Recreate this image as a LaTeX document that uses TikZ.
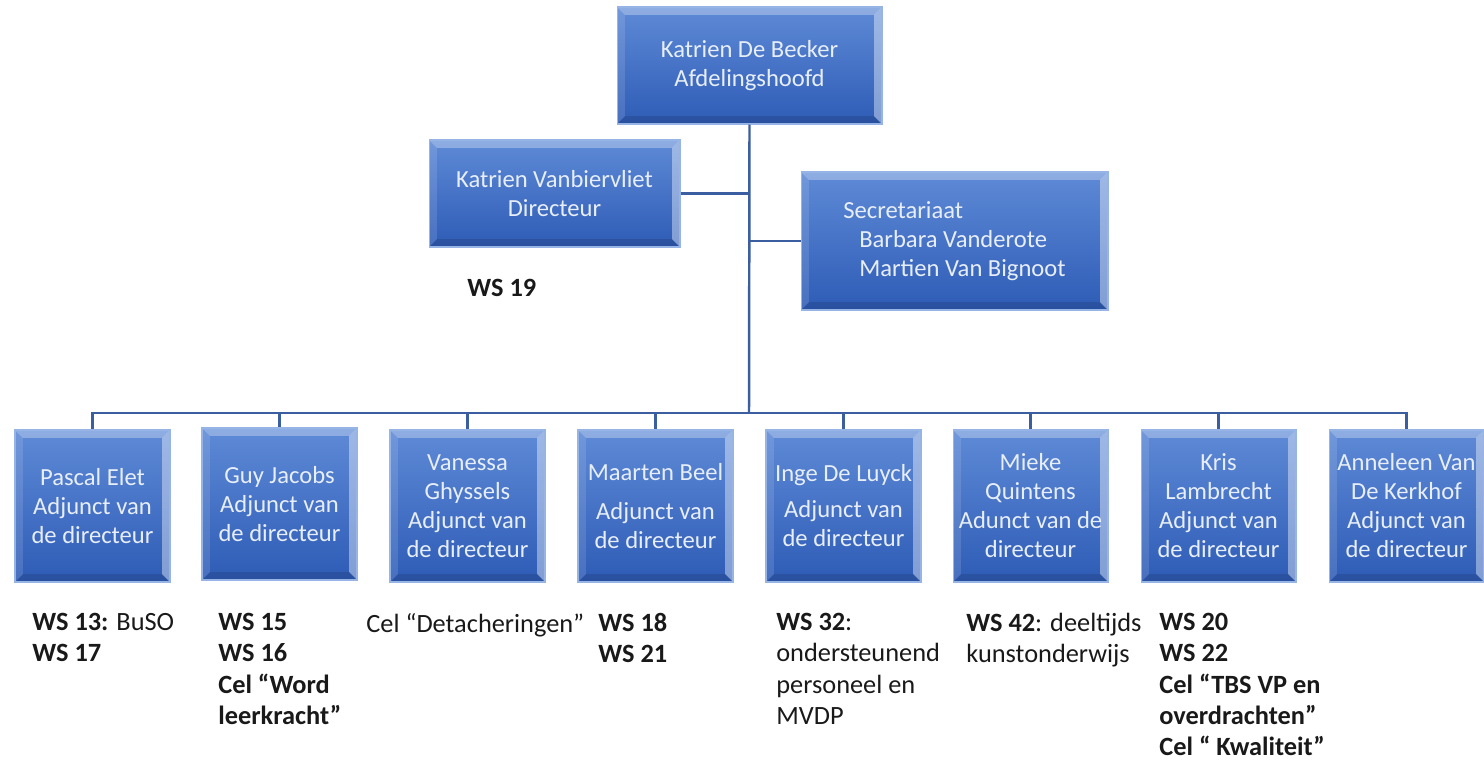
\documentclass[tikz,border=0pt]{standalone}
\usepackage{fontspec}
\setmainfont{Carlito}
\definecolor{boxtop}{RGB}{94,138,214}
\definecolor{boxbot}{RGB}{46,92,182}
\definecolor{boxedge}{RGB}{150,180,230}
\definecolor{boxtext}{RGB}{232,238,248}
\definecolor{linecol}{RGB}{58,94,160}
\begin{document}
\begin{tikzpicture}[x=0.02cm, y=-0.02cm,
        bevel/.style={path picture={
            \fill[white, opacity=.30] (path picture bounding box.north west) -- (path picture bounding box.north east)
                -- ([shift={(-4.5pt,-4.5pt)}]path picture bounding box.north east) -- ([shift={(4.5pt,-4.5pt)}]path picture bounding box.north west) -- cycle;
            \fill[white, opacity=.12] (path picture bounding box.north west) -- (path picture bounding box.south west)
                -- ([shift={(4.5pt,4.5pt)}]path picture bounding box.south west) -- ([shift={(4.5pt,-4.5pt)}]path picture bounding box.north west) -- cycle;
            \fill[white, opacity=.40] (path picture bounding box.north east) -- (path picture bounding box.south east)
                -- ([shift={(-4.5pt,4.5pt)}]path picture bounding box.south east) -- ([shift={(-4.5pt,-4.5pt)}]path picture bounding box.north east) -- cycle;
            \fill[black, opacity=.12] (path picture bounding box.south west) -- (path picture bounding box.south east)
                -- ([shift={(-4.5pt,4.5pt)}]path picture bounding box.south east) -- ([shift={(4.5pt,4.5pt)}]path picture bounding box.south west) -- cycle;
        }},
        orgbox/.style={rectangle, top color=boxtop, bottom color=boxbot, draw=boxedge, line width=0.6pt,
            text=boxtext, align=center, inner sep=0pt, font=\fontsize{14}{16.5}\selectfont, bevel},
        adjbox/.style={orgbox, minimum width=3.1cm, minimum height=3.04cm},
        conn/.style={draw=linecol, line width=1.4pt},
        note/.style={anchor=north west, inner sep=0pt, align=left, text=black!90, font=\fontsize{15}{17.8}\selectfont},
        boldnote/.style={note, font=\fontsize{15}{17.8}\selectfont\bfseries},
        ]
    \useasboundingbox (0,0) rectangle (1484,760);

    % Top levels
    \node[orgbox, minimum width=5.3cm, minimum height=2.34cm] (boss) at (749.5,65.5) {Katrien De Becker\\Afdelingshoofd};
    \node[orgbox, minimum width=5.02cm, minimum height=2.14cm] (dir) at (554.5,193.5) {Katrien Vanbiervliet\\Directeur};
    \node[orgbox, minimum width=6.14cm, minimum height=2.76cm, align=left] (secr) at (954.5,241)
        {Secretariaat\\\hspace*{0.32cm}Barbara Vanderote\\\hspace*{0.32cm}Martien Van Bignoot};

    % Adjuncten
    \node[adjbox] (pascal)   at (92.5,506)   {Pascal Elet\\Adjunct van\\de directeur};
    \node[adjbox] (guy)      at (279.5,504)  {Guy Jacobs\\Adjunct van\\de directeur};
    \node[adjbox] (vanessa)  at (467.5,506)  {Vanessa\\Ghyssels\\Adjunct van\\de directeur};
    \node[adjbox] (maarten)  at (655.5,506)  {Maarten Beel\\[6pt]Adjunct van\\de directeur};
    \node[adjbox] (inge)     at (843.5,506)  {Inge De Luyck\\[4pt]Adjunct van\\de directeur};
    \node[adjbox] (mieke)    at (1030.5,506) {Mieke\\Quintens\\Adunct van de\\directeur};
    \node[adjbox] (kris)     at (1218.5,506) {Kris\\Lambrecht\\Adjunct van\\de directeur};
    \node[adjbox] (anneleen) at (1406.5,506) {Anneleen Van\\De Kerkhof\\Adjunct van\\de directeur};

    % Connectors
    \coordinate (bus) at (749,413);
    \draw[conn] (boss.south) -- (bus);
    \draw[conn] (dir.east) -- (dir.east -| boss.south);
    \draw[conn] (secr.west) -- (secr.west -| boss.south);
    \draw[conn] (bus) -| (pascal.north);
    \draw[conn] (bus) -| (guy.north);
    \draw[conn] (bus) -| (vanessa.north);
    \draw[conn] (bus) -| (maarten.north);
    \draw[conn] (bus) -| (inge.north);
    \draw[conn] (bus) -| (mieke.north);
    \draw[conn] (bus) -| (kris.north);
    \draw[conn] (bus) -| (anneleen.north);

    % Werkstromen
    \node[boldnote] (ws19) at (467,279) {WS 19};
    \node[note] (ws13) at (32,613) {\textbf{WS 13:} BuSO\\\textbf{WS 17}};
    \node[boldnote] (ws15) at (218,613) {WS 15\\WS 16\\Cel “Word\\leerkracht”};
    \node[note] (detach) at (366,613) {Cel “Detacheringen”};
    \node[boldnote] (ws18) at (598,613) {WS 18\\WS 21};
    \node[note] (ws32) at (776,613) {\textbf{WS 32}:\\ondersteunend\\personeel en\\MVDP};
    \node[note] (ws42) at (966,613) {\textbf{WS 42}: deeltijds\\kunstonderwijs};
    \node[boldnote] (ws20) at (1159,613) {WS 20\\WS 22\\Cel “TBS VP en\\overdrachten”\\Cel “ Kwaliteit”};

\end{tikzpicture}
\end{document}
